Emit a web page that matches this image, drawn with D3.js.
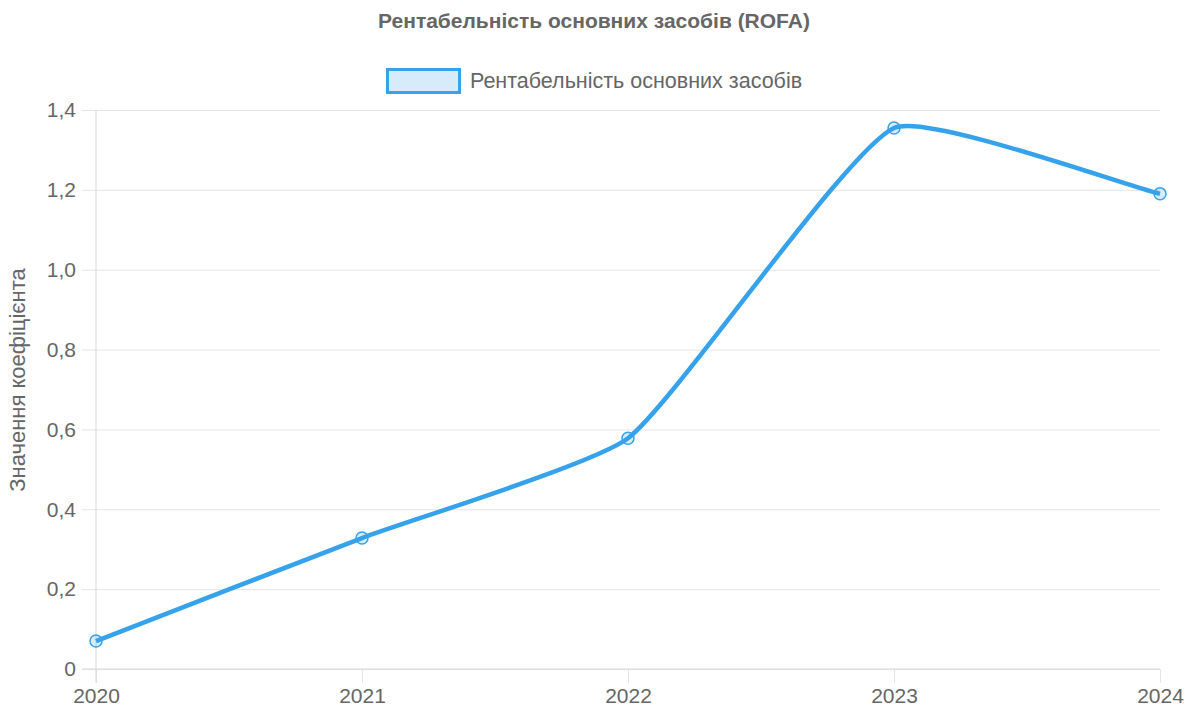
<!DOCTYPE html>
<html>
<head>
<meta charset="utf-8">
<script src="https://cdn.jsdelivr.net/npm/d3@7"></script>
<style>
  body { margin: 0; background: #fff; }
  text { font-family: "Liberation Sans", Arial, sans-serif; fill: #666; }
</style>
</head>
<body>
<div id="container"></div>
<script>
/* CONSTANTS AND GLOBALS */
const width = 1188,
    height = 711,
    margin = { top: 110, right: 28, bottom: 42, left: 96 };

const titleText = "Рентабельність основних засобів (ROFA)"
const seriesName = "Рентабельність основних засобів"
const yTitle = "Значення коефіцієнта"

// DATA
const years = ["2020", "2021", "2022", "2023", "2024"]
const rofa = [0.07, 0.328, 0.578, 1.355, 1.19]
const yTicks = [0, 0.2, 0.4, 0.6, 0.8, 1.0, 1.2, 1.4]

const blue = "#36A2EB",
    blueFill = "rgba(54,162,235,0.2)",
    grid = "#e5e5e5"

const svg = d3.select("#container")
    .append("svg")
    .attr("width", width)
    .attr("height", height)

// SCALES
const xScale = d3.scalePoint()
    .domain(years)
    .range([margin.left, width - margin.right])

const yScale = d3.scaleLinear()
    .domain([0, 1.4])
    .range([height - margin.bottom, margin.top])

const fmt = v => v === 0 ? "0" : d3.format(".1f")(v).replace(".", ",")

// GRID + AXES
const yAxis = d3.axisLeft(yScale)
    .tickValues(yTicks)
    .tickFormat(fmt)
    .tickSize(-(width - margin.right - margin.left))

const yg = svg.append("g")
    .attr("transform", "translate(" + margin.left + ",0)")
    .call(yAxis)
yg.select(".domain").remove()
yg.selectAll("line")
    .attr("x1", -14)
    .attr("stroke", grid)
yg.selectAll("text")
    .attr("x", -20)
    .style("font-size", "21px")

const xAxis = d3.axisBottom(xScale)
    .tickSize(-(height - margin.top - margin.bottom))

const xg = svg.append("g")
    .attr("transform", "translate(0," + (height - margin.bottom) + ")")
    .call(xAxis)
xg.select(".domain").remove()
xg.selectAll("line")
    .attr("y2", 14)
    .attr("stroke", grid)
xg.selectAll("text")
    .attr("y", 19)
    .attr("dy", "0.71em")
    .style("font-size", "21px")

// axis lines a bit darker
svg.append("line")
    .attr("x1", margin.left).attr("x2", margin.left)
    .attr("y1", margin.top).attr("y2", height - margin.bottom + 14)
    .attr("stroke", "#d9d9d9")
svg.append("line")
    .attr("x1", margin.left - 14).attr("x2", width - margin.right)
    .attr("y1", height - margin.bottom).attr("y2", height - margin.bottom)
    .attr("stroke", "#d9d9d9")

// LABELS
svg.append("text")
    .attr("x", 594)
    .attr("y", 28)
    .attr("text-anchor", "middle")
    .style("font-size", "21px")
    .style("font-weight", "bold")
    .text(titleText)

svg.append("rect")
    .attr("x", 387.5).attr("y", 69.5)
    .attr("width", 72).attr("height", 23)
    .attr("fill", blueFill)
    .attr("stroke", blue)
    .attr("stroke-width", 3)

svg.append("text")
    .attr("x", 470)
    .attr("y", 88)
    .style("font-size", "21.5px")
    .text(seriesName)

svg.append("text")
    .attr("transform", "rotate(-90)")
    .attr("x", -380)
    .attr("y", 25)
    .attr("text-anchor", "middle")
    .style("font-size", "22px")
    .text(yTitle)

// LINE (Chart.js style spline)
const pts = years.map((y, i) => [xScale(y), yScale(rofa[i])])
const tension = 0.15
const cps = pts.map((p, i) => {
    const prev = pts[i - 1] || p, next = pts[i + 1] || p
    const d01 = Math.hypot(p[0] - prev[0], p[1] - prev[1])
    const d12 = Math.hypot(next[0] - p[0], next[1] - p[1])
    let s01 = d01 / (d01 + d12), s12 = d12 / (d01 + d12)
    if (isNaN(s01)) s01 = 0
    if (isNaN(s12)) s12 = 0
    const fa = tension * s01, fb = tension * s12
    return {
        prev: [p[0] - fa * (next[0] - prev[0]), p[1] - fa * (next[1] - prev[1])],
        next: [p[0] + fb * (next[0] - prev[0]), p[1] + fb * (next[1] - prev[1])]
    }
})
const path = d3.path()
path.moveTo(pts[0][0], pts[0][1])
for (let i = 1; i < pts.length; i++) {
    path.bezierCurveTo(cps[i - 1].next[0], cps[i - 1].next[1],
        cps[i].prev[0], cps[i].prev[1], pts[i][0], pts[i][1])
}
svg.append("path")
    .attr("d", path.toString())
    .attr("fill", "none")
    .attr("stroke", blue)
    .attr("stroke-width", 4.5)

// DOTS
svg.selectAll("circle.dot")
    .data(rofa)
    .join("circle")
    .attr("class", "dot")
    .attr("cx", (d, i) => xScale(years[i]))
    .attr("cy", d => yScale(d))
    .attr("r", 6)
    .attr("fill", blueFill)
    .attr("stroke", blue)
    .attr("stroke-width", 1.5)
</script>
</body>
</html>
